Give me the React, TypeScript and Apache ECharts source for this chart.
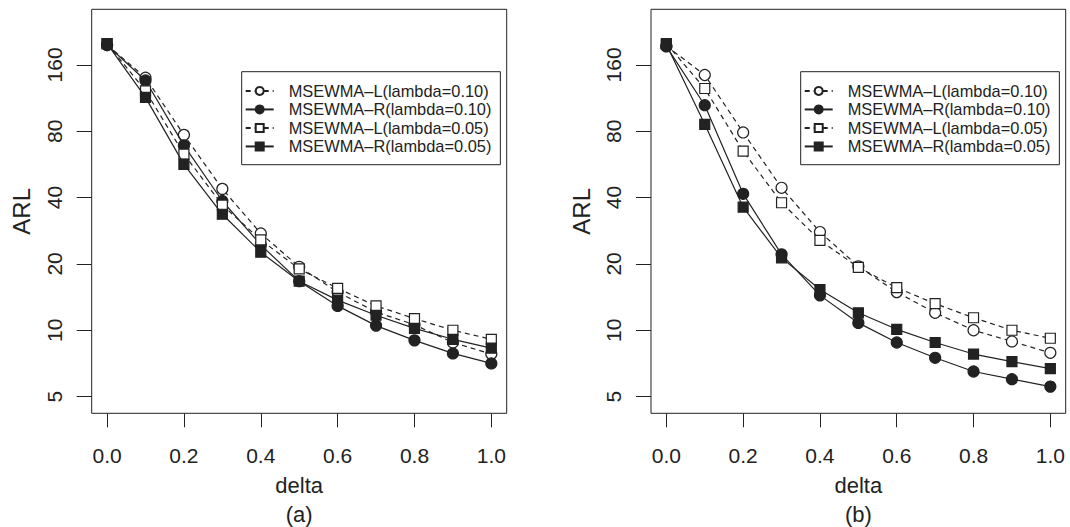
import React, { useEffect, useRef } from "react";
import * as echarts from "echarts";

// ---------- data ----------
const deltas = [0, 0.1, 0.2, 0.3, 0.4, 0.5, 0.6, 0.7, 0.8, 0.9, 1.0];
const xTicks = [0, 0.2, 0.4, 0.6, 0.8, 1.0];
const yTickLabels = ["5", "10", "20", "40", "80", "160"];
const seriesNames = [
  "MSEWMA–L(lambda=0.10)",
  "MSEWMA–R(lambda=0.10)",
  "MSEWMA–L(lambda=0.05)",
  "MSEWMA–R(lambda=0.05)",
];

// panel (a)
const aL10 = [197, 140, 77, 43.8, 27.5, 19.4, 14.9, 12.1, 10.6, 8.8, 7.8];
const aR10 = [197, 136, 69, 38.6, 24.4, 16.7, 12.9, 10.5, 9.0, 7.85, 7.07];
const aL05 = [200, 122, 63, 37, 25.7, 19.0, 15.5, 12.9, 11.3, 10.0, 9.1];
const aR05 = [200, 114, 56.6, 33.6, 22.6, 16.7, 13.7, 11.7, 10.2, 9.1, 8.3];

// panel (b)
const bL10 = [195, 144, 79, 44.3, 27.9, 19.5, 14.9, 12.0, 10.0, 8.9, 7.9];
const bR10 = [194, 105, 41.6, 22.1, 14.4, 10.8, 8.8, 7.5, 6.5, 6.0, 5.55];
const bL05 = [200, 125, 65, 37.9, 25.6, 19.3, 15.6, 13.2, 11.4, 10.0, 9.2];
const bR05 = [198, 86, 36.2, 21.3, 15.3, 12.0, 10.1, 8.8, 7.8, 7.2, 6.7];

const panelLabels = ["(a)", "(b)"];

// ---------- layout / style ----------
const INK = "#222";
const FONT = "'Liberation Sans', Arial, Helvetica, sans-serif";
const Y_MIN = 4.2;
const Y_MAX = 286;
const X_MIN = -0.04;
const X_MAX = 1.04;

const panels = [
  { left: 91.7, top: 9.3, width: 415, height: 404, legendLeft: 241.7, series: [aL10, aR10, aL05, aR05] },
  { left: 651, top: 9.3, width: 414.7, height: 404, legendLeft: 800.7, series: [bL10, bR10, bL05, bR05] },
];

function yPix(p: any, v: number) {
  return p.top + (p.height * (Math.log(Y_MAX) - Math.log(v))) / (Math.log(Y_MAX) - Math.log(Y_MIN));
}

function buildOption() {
  const grid: any[] = [];
  const xAxis: any[] = [];
  const yAxis: any[] = [];
  const series: any[] = [];
  const legend: any[] = [];
  const graphic: any[] = [];

  panels.forEach((p, pi) => {
    const dataIdx = pi * 2;
    const tickIdx = pi * 2 + 1;
    grid.push({
      left: p.left,
      top: p.top,
      width: p.width,
      height: p.height,
      show: true,
      borderColor: INK,
      borderWidth: 1,
      backgroundColor: "transparent",
      outerBoundsMode: "none",
    });
    const tTop = yPix(p, 160);
    const tBot = yPix(p, 5);
    grid.push({
      left: p.left,
      top: tTop,
      width: p.width,
      height: tBot - tTop,
      show: false,
      outerBoundsMode: "none",
    });

    xAxis.push({
      type: "value",
      gridIndex: dataIdx,
      min: X_MIN,
      max: X_MAX,
      axisLine: { show: false },
      splitLine: { show: false },
      axisTick: {
        show: true,
        inside: false,
        length: 14,
        customValues: xTicks,
        lineStyle: { color: INK, width: 1 },
      },
      axisLabel: {
        show: true,
        customValues: xTicks,
        formatter: (v: number) => v.toFixed(1),
        fontSize: 21,
        margin: 31.5,
        color: INK,
        fontFamily: FONT,
      },
      name: "delta",
      nameLocation: "middle",
      nameGap: 61.5,
      nameTextStyle: { fontSize: 22, color: INK, fontFamily: FONT },
    });
    xAxis.push({ type: "value", gridIndex: tickIdx, show: false, min: 0, max: 1 });

    yAxis.push({
      type: "log",
      logBase: 2,
      gridIndex: dataIdx,
      min: Y_MIN,
      max: Y_MAX,
      axisLine: { show: false },
      axisTick: { show: false },
      axisLabel: { show: false },
      splitLine: { show: false },
      name: "ARL",
      nameLocation: "middle",
      nameRotate: 90,
      nameGap: 58,
      nameTextStyle: { fontSize: 24, color: INK, fontFamily: FONT },
    });
    yAxis.push({
      type: "category",
      gridIndex: tickIdx,
      data: yTickLabels,
      boundaryGap: false,
      axisLine: { show: false },
      splitLine: { show: false },
      axisTick: { show: true, inside: false, length: 15, interval: 0, lineStyle: { color: INK, width: 1 } },
      axisLabel: {
        show: true,
        interval: 0,
        rotate: 90,
        margin: 27,
        fontSize: 21,
        color: INK,
        fontFamily: FONT,
      },
    });

    p.series.forEach((vals, si) => {
      const isL = si % 2 === 0;
      const isCircle = si < 2;
      series.push({
        name: seriesNames[si],
        type: "line",
        xAxisIndex: dataIdx,
        yAxisIndex: dataIdx,
        data: deltas.map((d, i) => [d, vals[i]]),
        symbol: isCircle ? "circle" : "rect",
        symbolSize: isCircle ? 11 : 10,
        showSymbol: true,
        itemStyle: {
          color: isL ? "#ffffff" : INK,
          borderColor: INK,
          borderWidth: 1.2,
        },
        lineStyle: {
          color: INK,
          width: 1.2,
          type: isL ? [5, 4] : "solid",
        },
        emphasis: { disabled: true },
        z: 2 + si,
      });
    });

    legend.push({
      show: true,
      orient: "vertical",
      left: p.legendLeft,
      top: 71.7,
      padding: [10, 9, 9, 3],
      itemGap: 0,
      itemWidth: 28,
      itemHeight: 10,
      borderColor: INK,
      borderWidth: 1,
      backgroundColor: "#fff",
      selectedMode: false,
      data: seriesNames,
      textStyle: {
        fontSize: 16.4,
        lineHeight: 18.5,
        color: INK,
        fontFamily: FONT,
        padding: [0, 0, 0, 10],
      },
    });

    graphic.push({
      type: "text",
      x: p.left + p.width / 2,
      y: 514,
      style: {
        text: panelLabels[pi],
        fontSize: 22,
        fill: INK,
        fontFamily: FONT,
        textAlign: "center",
        textVerticalAlign: "middle",
      },
    });
  });

  return {
    animation: false,
    backgroundColor: "#fff",
    textStyle: { fontFamily: FONT, color: INK },
    grid,
    xAxis,
    yAxis,
    series,
    legend,
    graphic,
  };
}

export default function App() {
  const ref = useRef<HTMLDivElement>(null);
  useEffect(() => {
    if (!ref.current) return;
    const chart = echarts.init(ref.current, null, { renderer: "svg" });
    chart.setOption(buildOption() as any);
    return () => chart.dispose();
  }, []);
  return (
    <div
      ref={ref}
      style={{ position: "fixed", left: 0, top: 0, width: 1070, height: 527, background: "#fff" }}
    />
  );
}
